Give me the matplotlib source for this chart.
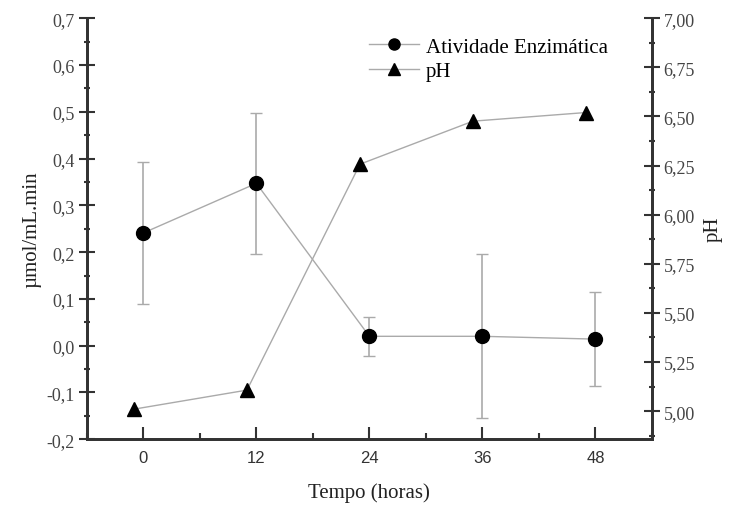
import matplotlib
matplotlib.use('Agg')
import matplotlib.pyplot as plt
from matplotlib.lines import Line2D
from matplotlib.ticker import MultipleLocator, FuncFormatter

# atividade enzimática (µmol/mL.min) com desvio padrão
tempo = [0, 12, 24, 36, 48]
atividade = [0.241, 0.347, 0.020, 0.020, 0.014]
desvio = [0.152, 0.150, 0.042, 0.175, 0.101]

# pH medido (pontos ligeiramente deslocados no tempo)
tempo_ph = [-1, 11, 23, 35, 47]
ph = [5.01, 5.107, 6.257, 6.476, 6.52]

serif = 'Liberation Serif'
cinza = '#aaaaaa'
eixo = '#333333'

fig = plt.figure(figsize=(7.3, 5.06), dpi=100)
ax = fig.add_axes([0.119, 0.130, 0.774, 0.832])
ax2 = ax.twinx()

ax.errorbar(tempo, atividade, yerr=desvio, color=cinza, lw=1, ecolor=cinza,
            elinewidth=1.2, capsize=4, capthick=1,
            marker='o', ms=10, mfc='black', mec='black', zorder=3)
ax2.plot(tempo_ph, ph, color=cinza, lw=1, marker='^', ms=10,
         mfc='black', mec='black')

ax.set_xlim(-6, 54)
ax.set_ylim(-0.2, 0.7)
ax2.set_ylim(4.857, 7.0)

ax.xaxis.set_major_locator(MultipleLocator(12))
ax.xaxis.set_minor_locator(MultipleLocator(6))
ax.yaxis.set_major_locator(MultipleLocator(0.1))
ax.yaxis.set_minor_locator(MultipleLocator(0.05))
ax2.yaxis.set_major_locator(MultipleLocator(0.25))
ax2.yaxis.set_minor_locator(MultipleLocator(0.125))

ax.yaxis.set_major_formatter(FuncFormatter(lambda v, p: f'{v:.1f}'.replace('.', ',').replace('-0,0', '0,0')))
ax2.yaxis.set_major_formatter(FuncFormatter(lambda v, p: f'{v:.2f}'.replace('.', ',')))

for a in (ax, ax2):
    a.spines['top'].set_visible(False)
    for s in a.spines.values():
        s.set_linewidth(2)
        s.set_color(eixo)

ax.tick_params(axis='y', which='major', direction='inout', length=11, width=1.5, color=eixo,
               labelsize=13, labelcolor='#444444', pad=3)
ax.tick_params(axis='y', which='minor', direction='inout', length=5, width=1.5, color=eixo)
ax.tick_params(axis='x', which='major', direction='in', length=9, width=1.5, color=eixo,
               labelsize=12, labelcolor='#333333', pad=8)
ax.tick_params(axis='x', which='minor', direction='in', length=4, width=1.5, color=eixo)
ax2.tick_params(axis='y', which='major', direction='inout', length=11, width=1.5, color=eixo,
                labelsize=13, labelcolor='#444444', pad=3)
ax2.tick_params(axis='y', which='minor', direction='inout', length=5, width=1.5, color=eixo)

for lab in ax.get_yticklabels() + ax2.get_yticklabels():
    lab.set_family(serif)
for lab in ax.get_xticklabels():
    lab.set_family('Liberation Sans')

ax.set_xlabel('Tempo (horas)', family=serif, fontsize=15, color='#222222', labelpad=12)
ax.set_ylabel('µmol/mL.min', family=serif, fontsize=15, color='#222222', labelpad=4)
ax2.set_ylabel('pH', family=serif, fontsize=15, color='#222222', labelpad=6)

# legenda: linha cinza com marcador preto
h1 = Line2D([], [], color=cinza, lw=1, marker='o', ms=8, mfc='black', mec='black')
h2 = Line2D([], [], color=cinza, lw=1, marker='^', ms=8, mfc='black', mec='black')
ax.legend([h1, h2], ['Atividade Enzimática', 'pH'], loc='upper left',
          bbox_to_anchor=(0.467, 1.0), frameon=False, handlelength=2.4,
          handletextpad=0.3, labelspacing=0.25,
          prop={'family': serif, 'size': 15})

fig.savefig('out.png', dpi=100)
